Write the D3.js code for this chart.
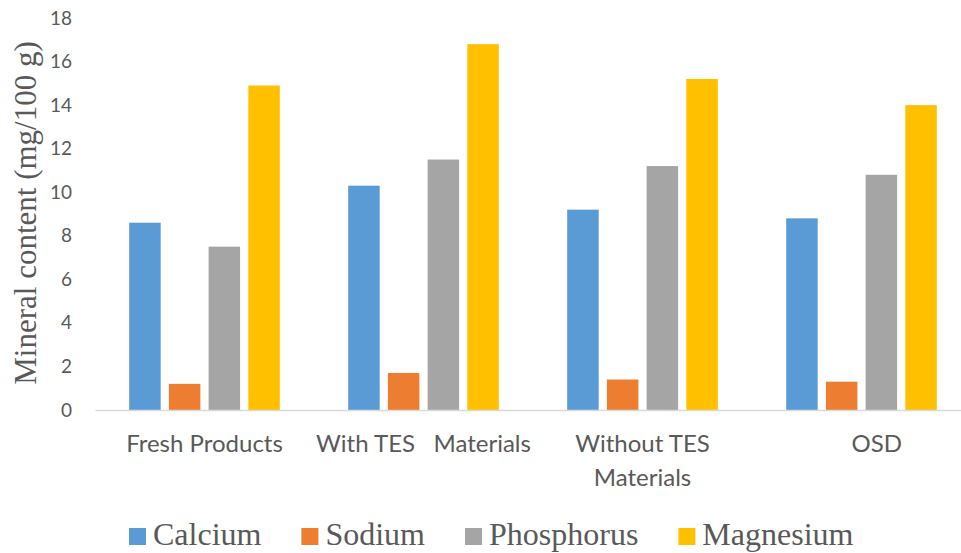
<!DOCTYPE html>
<html>
<head>
<meta charset="utf-8">
<script src="https://cdn.jsdelivr.net/npm/d3@7"></script>
<style>
  html, body { margin: 0; padding: 0; background: #fff; }
  svg { display: block; }
  .lbl { white-space: pre; }
</style>
</head>
<body>
<svg id="chart" width="961" height="553"></svg>
<script>
// Mineral content per treatment (mg/100 g)
const categories = ["Fresh Products", "With TES   Materials", "Without TES Materials", "OSD"];
const categoryLines = [["Fresh Products"], ["With TES   Materials"], ["Without TES", "Materials"], ["     OSD"]];
const seriesNames = ["Calcium", "Sodium", "Phosphorus", "Magnesium"];
const calcium    = [8.6, 10.3, 9.2, 8.8];
const sodium     = [1.2, 1.7, 1.4, 1.3];
const phosphorus = [7.5, 11.5, 11.2, 10.8];
const magnesium  = [14.9, 16.8, 15.2, 14.0];
const yTicks = [0, 2, 4, 6, 8, 10, 12, 14, 16, 18];
const colors = ["#5B9BD5", "#ED7D31", "#A5A5A5", "#FFC000"];

const seriesValues = [calcium, sodium, phosphorus, magnesium];
const rows = categories.map((c, i) => ({
  category: c,
  values: seriesNames.map((s, j) => ({ series: s, value: seriesValues[j][i] }))
}));

const svg = d3.select("#chart");
const textColor = "#595959";

const x0 = d3.scaleBand().domain(categories).range([95, 971]).padding(0);
const x1 = d3.scaleBand().domain(seriesNames).range([0, x0.bandwidth()])
  .paddingInner(0.207).paddingOuter(0.861);
const y = d3.scaleLinear().domain([0, 18]).range([410, 18]);
const color = d3.scaleOrdinal().domain(seriesNames).range(colors);

// Y axis: labels only, no line or tick marks
const yAxis = svg.append("g")
  .attr("transform", "translate(72,0)")
  .call(d3.axisLeft(y).tickValues(yTicks).tickSize(0).tickPadding(0));
yAxis.select(".domain").remove();
yAxis.selectAll("text")
  .attr("fill", textColor)
  .style("font-family", "Lato, 'Open Sans', sans-serif")
  .style("font-size", "19px");

// Y axis title
svg.append("text")
  .attr("transform", "translate(36,213) rotate(-90)")
  .attr("text-anchor", "middle")
  .attr("fill", textColor)
  .style("font-family", "'Liberation Serif', 'Times New Roman', serif")
  .style("font-size", "31px")
  .text("Mineral content (mg/100 g)");

// Bars
const groups = svg.append("g").selectAll("g")
  .data(rows).join("g")
  .attr("transform", d => `translate(${x0(d.category)},0)`);
groups.selectAll("rect")
  .data(d => d.values).join("rect")
  .attr("x", d => x1(d.series))
  .attr("width", x1.bandwidth())
  .attr("y", d => y(d.value))
  .attr("height", d => y(0) - y(d.value))
  .attr("fill", d => color(d.series));

// Category axis baseline
const xAxis = svg.append("g")
  .attr("transform", `translate(0,${y(0)})`)
  .call(d3.axisBottom(x0).tickSize(0).tickFormat(""));
xAxis.select(".domain").attr("stroke", "#D9D9D9").attr("stroke-width", 1.5);

// Category labels (possibly two lines)
const xl = svg.append("g").selectAll("text")
  .data(categories).join("text")
  .attr("class", "lbl")
  .attr("x", d => x0(d) + x0.bandwidth() / 2)
  .attr("y", 452)
  .attr("text-anchor", "middle")
  .attr("fill", textColor)
  .style("font-family", "Lato, 'Open Sans', sans-serif")
  .style("font-size", "24px");
xl.each(function(d, i) {
  const t = d3.select(this);
  categoryLines[i].forEach((line, k) => {
    t.append("tspan")
      .attr("x", x0(d) + x0.bandwidth() / 2)
      .attr("dy", k === 0 ? 0 : 34)
      .text(line);
  });
});

// Legend
const legend = svg.append("g");
let lx = 129;
seriesNames.forEach((s, i) => {
  legend.append("rect")
    .attr("x", lx).attr("y", 528)
    .attr("width", 17).attr("height", 17)
    .attr("fill", color(s));
  const t = legend.append("text")
    .attr("x", lx + 24).attr("y", 545)
    .attr("fill", textColor)
    .style("font-family", "'Liberation Serif', 'Times New Roman', serif")
    .style("font-size", "32px")
    .text(s);
  lx += 24 + t.node().getComputedTextLength() + 40;
});
</script>
</body>
</html>
